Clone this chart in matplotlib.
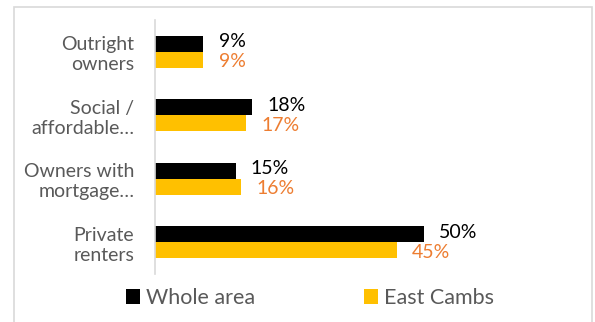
import matplotlib.pyplot as plt
from matplotlib.patches import Rectangle
import numpy as np

categories = ["Outright\nowners", "Social /\naffordable…", "Owners with\nmortgage…", "Private\nrenters"]
whole_area = [9, 18, 15, 50]
east_cambs = [9, 17, 16, 45]
series_names = ["Whole area", "East Cambs"]

plt.rcParams['font.family'] = ['Lato', 'DejaVu Sans']

fig = plt.figure(figsize=(5.95, 3.22), dpi=100)
ax = fig.add_axes([0.2605, 0.149, 0.7225, 0.789])

# outer frame of the chart
fig.patches.append(Rectangle((14 / 595, -0.1), 578 / 595, 1 - 7 / 322 + 0.1,
                             transform=fig.transFigure, fill=False,
                             edgecolor='#D9D9D9', linewidth=1.2))

y = np.arange(len(categories))
h = 0.25
b1 = ax.barh(y - h / 2, whole_area, height=h, color='black', label=series_names[0])
b2 = ax.barh(y + h / 2, east_cambs, height=h, color='#FFC000', label=series_names[1])

# value labels, nudged apart a little so the two rows don't collide
for bar, v in zip(b1, whole_area):
    ax.annotate(f"{v}%", (bar.get_width(), bar.get_y() + bar.get_height() / 2),
                xytext=(11, 1.5), textcoords='offset points', va='center', ha='left',
                fontsize=14, color='black')
for bar, v in zip(b2, east_cambs):
    ax.annotate(f"{v}%", (bar.get_width(), bar.get_y() + bar.get_height() / 2),
                xytext=(11, -1.5), textcoords='offset points', va='center', ha='left',
                fontsize=14, color='#ED7D31')

ax.set_xlim(0, 80)
ax.set_ylim(len(categories) - 0.5, -0.5)
ax.set_yticks(y)
ax.set_yticklabels(categories, fontsize=14, color='#595959', linespacing=1.2)
ax.tick_params(axis='y', length=0, pad=15)
ax.set_xticks([])
for s in ['top', 'right', 'bottom']:
    ax.spines[s].set_visible(False)
ax.spines['left'].set_color('#D9D9D9')
ax.spines['left'].set_linewidth(1.2)

fig.legend(handles=[b1, b2], loc='center', bbox_to_anchor=(310 / 595, 1 - 298 / 322),
           ncol=2, frameon=False, fontsize=15.5, labelcolor='#595959',
           handlelength=0.65, handleheight=0.65, handletextpad=0.28, columnspacing=5.1)

fig.savefig("out.png", dpi=100)
